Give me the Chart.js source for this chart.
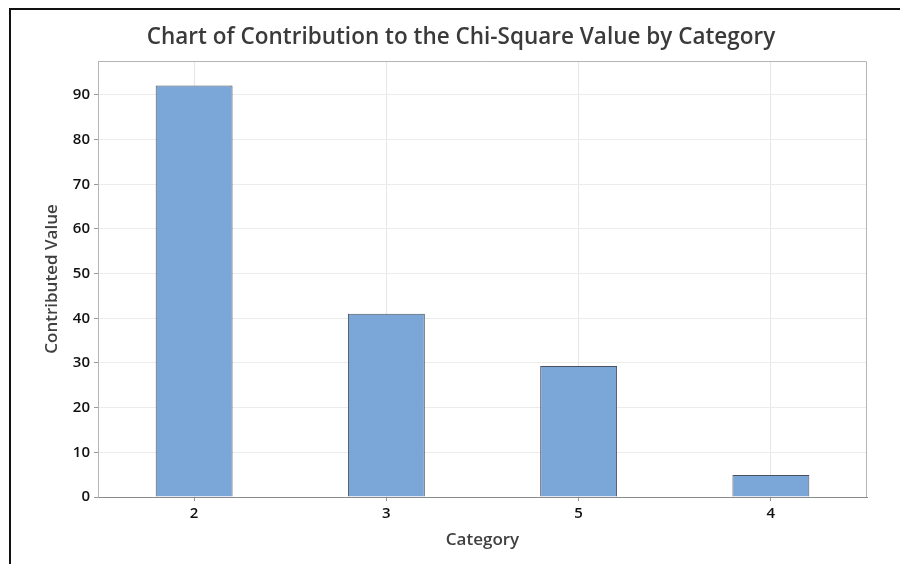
<!DOCTYPE html>
<html>
<head>
<meta charset="utf-8">
<script src="https://cdn.jsdelivr.net/npm/chart.js@4"></script>
<style>
  html, body { margin: 0; padding: 0; background: #fff; }
  #wrap { width: 900px; height: 564px; }
</style>
</head>
<body>
<div id="wrap"><canvas id="grafica" width="900" height="564"></canvas></div>
<script>
// datos del grafico
const categorias = ['2', '3', '5', '4'];
const valores = [92.1, 41.0, 29.3, 4.9];
const yMax = 97.6;
const titulo = 'Chart of Contribution to the Chi-Square Value by Category';

// marco negro, titulo y borde del area de trazado
const marcoPlugin = {
    id: 'marco',
    beforeDraw(chart) {
        const c = chart.ctx;
        c.save();
        c.fillStyle = '#fff';
        c.fillRect(0, 0, chart.width, chart.height);
        c.strokeStyle = '#111';
        c.lineWidth = 2;
        c.beginPath();
        c.moveTo(10, chart.height);
        c.lineTo(10, 9);
        c.lineTo(chart.width, 9);
        c.stroke();
        // titulo centrado sobre la figura
        c.fillStyle = '#3a3a3a';
        c.font = '600 22.5px "Open Sans"';
        c.textAlign = 'center';
        c.textBaseline = 'middle';
        c.fillText(titulo, 461, 38);
        c.restore();
    },
    afterDraw(chart) {
        const a = chart.chartArea;
        const c = chart.ctx;
        c.save();
        c.strokeStyle = '#b4b4b4';
        c.lineWidth = 1;
        c.beginPath();
        c.moveTo(a.left, a.top + 0.5);
        c.lineTo(a.right - 0.5, a.top + 0.5);
        c.lineTo(a.right - 0.5, a.bottom);
        c.stroke();
        c.restore();
    }
};

const ctx = document.getElementById('grafica').getContext('2d');
new Chart(ctx, {
    type: 'bar',
    data: {
        labels: categorias,
        datasets: [{
            data: valores,
            backgroundColor: '#7ba6d8',
            borderColor: '#4b515c',
            borderWidth: 1,
            barPercentage: 0.4,
            categoryPercentage: 1.0
        }]
    },
    options: {
        responsive: false,
        animation: false,
        layout: { padding: { left: 0, right: 33, top: 61, bottom: 0 } },
        plugins: {
            legend: { display: false },
            tooltip: { enabled: false },
            title: { display: false }
        },
        scales: {
            x: {
                afterFit(scale) { scale.height = 67; },
                grid: { color: '#e6e6e6', tickColor: '#999', tickLength: 4, offset: false },
                border: { color: '#8a8a8a', width: 1 },
                ticks: {
                    color: '#111',
                    padding: 4,
                    font: { family: 'Open Sans', size: 15, weight: '600' }
                },
                title: {
                    display: true,
                    text: 'Category',
                    color: '#404040',
                    font: { family: 'Open Sans', size: 17, weight: '600', lineHeight: 1.2 },
                    padding: { top: 0, bottom: 14 }
                }
            },
            y: {
                min: 0,
                max: yMax,
                afterFit(scale) { scale.width = 98; },
                grid: { color: '#ececec', tickColor: '#999', tickLength: 4 },
                border: { color: '#b4b4b4', width: 1 },
                ticks: {
                    stepSize: 10,
                    includeBounds: false,
                    color: '#111',
                    padding: 4,
                    font: { family: 'Open Sans', size: 15, weight: '600' }
                },
                title: {
                    display: true,
                    text: 'Contributed Value',
                    color: '#404040',
                    font: { family: 'Open Sans', size: 17, weight: '600', lineHeight: 1.2 },
                    padding: { top: 42, bottom: 0 }
                }
            }
        }
    },
    plugins: [marcoPlugin]
});
</script>
</body>
</html>
